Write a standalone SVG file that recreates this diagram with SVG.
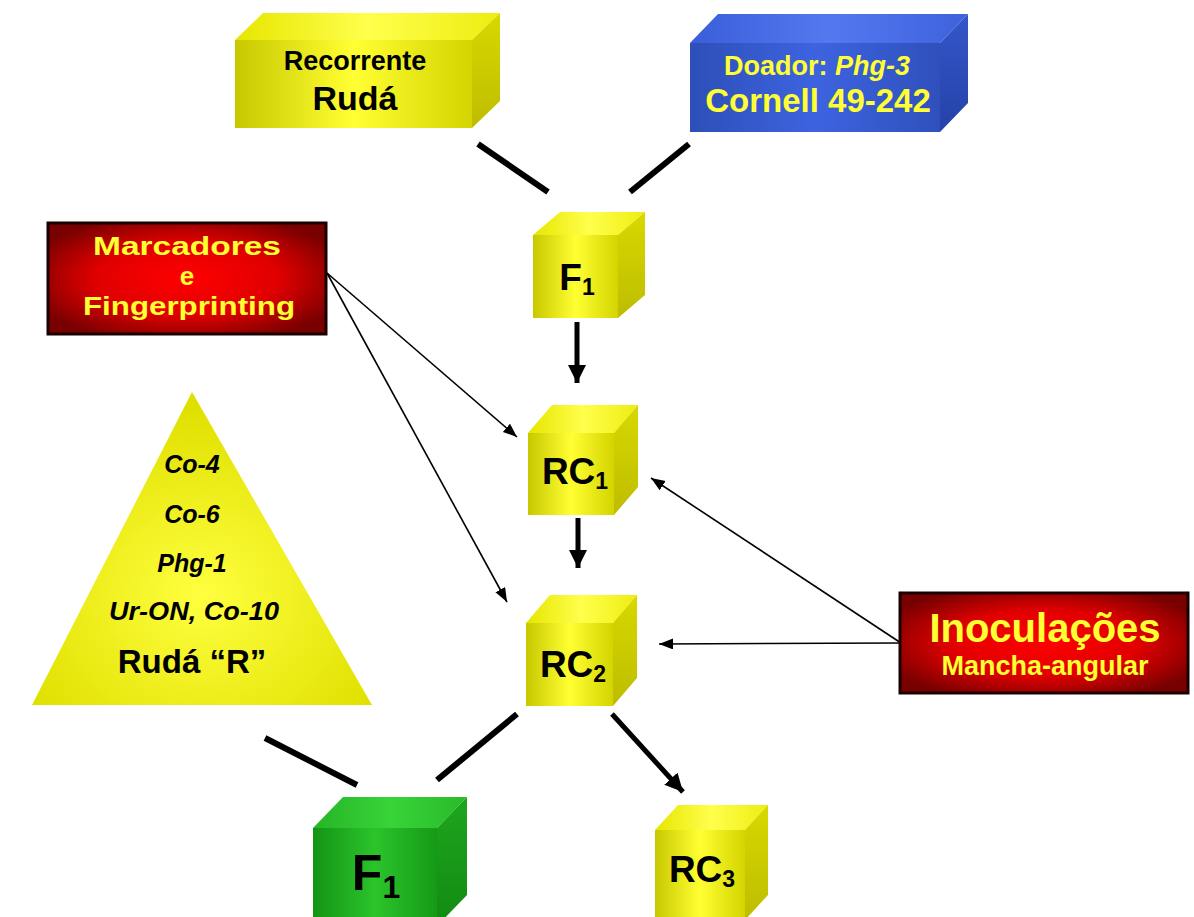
<svg xmlns="http://www.w3.org/2000/svg" width="1194" height="917" viewBox="0 0 1194 917">
<defs>
<linearGradient id="yFront" x1="0" y1="0" x2="1" y2="0">
<stop offset="0" stop-color="#C8C800"/><stop offset="0.5" stop-color="#FFFF33"/><stop offset="1" stop-color="#D4D400"/>
</linearGradient>
<linearGradient id="yTop" x1="0" y1="0" x2="1" y2="0">
<stop offset="0" stop-color="#E6E600"/><stop offset="0.5" stop-color="#FFFF4D"/><stop offset="1" stop-color="#EDED10"/>
</linearGradient>
<linearGradient id="ySide" x1="0" y1="0" x2="0" y2="1">
<stop offset="0" stop-color="#D8D800"/><stop offset="1" stop-color="#BDBD00"/>
</linearGradient>
<linearGradient id="bFront" x1="0" y1="0" x2="1" y2="0">
<stop offset="0" stop-color="#2E4FB8"/><stop offset="0.5" stop-color="#3D63E0"/><stop offset="1" stop-color="#2F50BC"/>
</linearGradient>
<linearGradient id="bTop" x1="0" y1="0" x2="1" y2="0">
<stop offset="0" stop-color="#3A5ED8"/><stop offset="0.5" stop-color="#5378F0"/><stop offset="1" stop-color="#3E62DC"/>
</linearGradient>
<linearGradient id="bSide" x1="0" y1="0" x2="0" y2="1">
<stop offset="0" stop-color="#3456C8"/><stop offset="1" stop-color="#2542A8"/>
</linearGradient>
<linearGradient id="gFront" x1="0" y1="0" x2="1" y2="0">
<stop offset="0" stop-color="#149414"/><stop offset="0.5" stop-color="#2BC42B"/><stop offset="1" stop-color="#169A16"/>
</linearGradient>
<linearGradient id="gTop" x1="0" y1="0" x2="1" y2="0">
<stop offset="0" stop-color="#26B426"/><stop offset="0.5" stop-color="#38D438"/><stop offset="1" stop-color="#2ABA2A"/>
</linearGradient>
<linearGradient id="gSide" x1="0" y1="0" x2="0" y2="1">
<stop offset="0" stop-color="#1EA61E"/><stop offset="1" stop-color="#128A12"/>
</linearGradient>
<radialGradient id="redG" cx="0.5" cy="0.5" r="0.6">
<stop offset="0" stop-color="#FF0000"/><stop offset="0.55" stop-color="#E00000"/><stop offset="1" stop-color="#780000"/>
</radialGradient>
<radialGradient id="triG" cx="0.5" cy="0.65" r="0.6">
<stop offset="0" stop-color="#FFFF40"/><stop offset="1" stop-color="#E0E000"/>
</radialGradient>
<marker id="thickArrow" markerUnits="userSpaceOnUse" markerWidth="20" markerHeight="20" refX="18" refY="9" orient="auto">
<path d="M0,0 L18,9 L0,18 Z" fill="#000"/>
</marker>
<marker id="thinArrow" markerUnits="userSpaceOnUse" markerWidth="16" markerHeight="12" refX="14" refY="5.5" orient="auto">
<path d="M0,0 L14,5.5 L0,11 Z" fill="#000"/>
</marker>
<style>
.lbl{font-family:"Liberation Sans",Arial,sans-serif;font-weight:bold;text-anchor:middle}
.blk{fill:#000}
.yel{fill:#FFFF33}
.it{font-style:italic}
.thick{stroke:#000;stroke-width:6;fill:none}
.thickA{stroke:#000;stroke-width:5;fill:none}
.thin{stroke:#000;stroke-width:1.6;fill:none}
.redbox{fill:url(#redG);stroke:#1a0000;stroke-width:3}
</style>
</defs>
<rect width="1194" height="917" fill="#fff"/>

<g id="connectors">
<line class="thick" x1="478" y1="144" x2="548" y2="192"/>
<line class="thick" x1="689" y1="144" x2="630" y2="192"/>
<line class="thickA" x1="577" y1="322" x2="577" y2="383" marker-end="url(#thickArrow)"/>
<line class="thickA" x1="578" y1="518" x2="578" y2="568" marker-end="url(#thickArrow)"/>
<line class="thin" x1="327" y1="273" x2="517" y2="437" marker-end="url(#thinArrow)"/>
<line class="thin" x1="327" y1="273" x2="507" y2="602" marker-end="url(#thinArrow)"/>
<line class="thin" x1="901" y1="643" x2="651" y2="478" marker-end="url(#thinArrow)"/>
<line class="thin" x1="901" y1="643" x2="659" y2="644" marker-end="url(#thinArrow)"/>
<line class="thick" x1="265" y1="738" x2="357" y2="785"/>
<line class="thick" x1="517" y1="714" x2="437" y2="780"/>
<line class="thickA" x1="612" y1="714" x2="683" y2="792" marker-end="url(#thickArrow)"/>
</g>

<g id="recorrente">
<polygon points="235,40 263,13 500,13 472,40" fill="url(#yTop)"/>
<polygon points="472,40 500,13 500,101 472,128" fill="url(#ySide)"/>
<rect x="235" y="40" width="237" height="88" fill="url(#yFront)"/>
<text class="lbl blk" x="355" y="70" font-size="27">Recorrente</text>
<text class="lbl blk" x="355" y="110" font-size="34">Rudá</text>
</g>

<g id="doador">
<polygon points="690,43 718,14 968,14 940,43" fill="url(#bTop)"/>
<polygon points="940,43 968,14 968,103 940,132" fill="url(#bSide)"/>
<rect x="690" y="43" width="250" height="89" fill="url(#bFront)"/>
<text class="lbl yel" x="817" y="75" font-size="27">Doador: <tspan class="it">Phg-3</tspan></text>
<text class="lbl yel" x="818" y="112" font-size="33">Cornell 49-242</text>
</g>

<g id="marcadores">
<rect class="redbox" x="48" y="223" width="278" height="111"/>
<text class="lbl yel" x="187" y="255" font-size="26" textLength="188" lengthAdjust="spacingAndGlyphs">Marcadores</text>
<text class="lbl yel" x="187" y="285" font-size="26">e</text>
<text class="lbl yel" x="189" y="315" font-size="26" textLength="212" lengthAdjust="spacingAndGlyphs">Fingerprinting</text>
</g>

<g id="f1top">
<polygon points="533,235 560,212 645,212 618,235" fill="url(#yTop)"/>
<polygon points="618,235 645,212 645,295 618,318" fill="url(#ySide)"/>
<rect x="533" y="235" width="85" height="83" fill="url(#yFront)"/>
<text class="lbl blk" x="577" y="290" font-size="37">F<tspan font-size="23" dy="5">1</tspan></text>
</g>

<g id="rc1">
<polygon points="528,433 552,405 638,405 614,433" fill="url(#yTop)"/>
<polygon points="614,433 638,405 638,487 614,515" fill="url(#ySide)"/>
<rect x="528" y="433" width="86" height="82" fill="url(#yFront)"/>
<text class="lbl blk" x="575" y="484" font-size="37">RC<tspan font-size="23" dy="5">1</tspan></text>
</g>

<g id="rc2">
<polygon points="526,623 550,595 637,595 613,623" fill="url(#yTop)"/>
<polygon points="613,623 637,595 637,678 613,706" fill="url(#ySide)"/>
<rect x="526" y="623" width="87" height="83" fill="url(#yFront)"/>
<text class="lbl blk" x="573" y="677" font-size="37">RC<tspan font-size="23" dy="5">2</tspan></text>
</g>

<g id="rc3">
<polygon points="655,830 678,805 768,805 745,830" fill="url(#yTop)"/>
<polygon points="745,830 768,805 768,895 745,920" fill="url(#ySide)"/>
<rect x="655" y="830" width="90" height="90" fill="url(#yFront)"/>
<text class="lbl blk" x="702" y="882" font-size="37">RC<tspan font-size="23" dy="5">3</tspan></text>
</g>

<g id="f1green">
<polygon points="313,828 343,797 467,797 437,828" fill="url(#gTop)"/>
<polygon points="437,828 467,797 467,895 437,926" fill="url(#gSide)"/>
<rect x="313" y="828" width="124" height="98" fill="url(#gFront)"/>
<text class="lbl blk" x="376" y="890" font-size="50">F<tspan font-size="32" dy="8">1</tspan></text>
</g>

<g id="triangle">
<polygon points="192,392 372,705 32,705" fill="url(#triG)"/>
<text class="lbl blk it" x="192" y="473" font-size="25">Co-4</text>
<text class="lbl blk it" x="192" y="523" font-size="25">Co-6</text>
<text class="lbl blk it" x="192" y="572" font-size="25">Phg-1</text>
<text class="lbl blk it" x="194" y="620" font-size="25" textLength="170" lengthAdjust="spacingAndGlyphs">Ur-ON, Co-10</text>
<text class="lbl blk" x="192" y="673" font-size="33">Rudá “R”</text>
</g>

<g id="inoculacoes">
<rect class="redbox" x="900" y="593" width="288" height="100"/>
<text class="lbl yel" x="1045" y="642" font-size="40">Inoculações</text>
<text class="lbl yel" x="1045" y="675" font-size="27">Mancha-angular</text>
</g>
</svg>
